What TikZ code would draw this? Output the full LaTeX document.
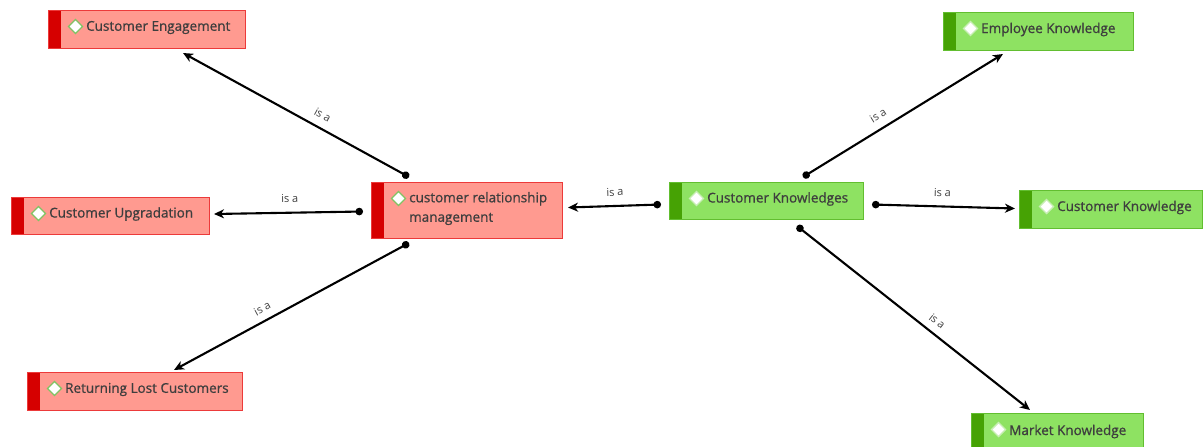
\documentclass[tikz,border=0pt]{standalone}
\usepackage{fontspec}
\setmainfont{Open Sans}
\newfontfamily\boxfont{Open Sans}[FakeBold=0.9]
\usetikzlibrary{arrows.meta}

\definecolor{redfill}{RGB}{255,154,144}
\definecolor{redline}{RGB}{236,58,58}
\definecolor{redbar}{RGB}{214,0,0}
\definecolor{greenfill}{RGB}{142,226,98}
\definecolor{greenline}{RGB}{98,190,48}
\definecolor{greenbar}{RGB}{70,162,4}
\definecolor{dmdred}{RGB}{128,196,100}
\definecolor{dmdgreen}{RGB}{200,238,180}
\definecolor{textgrey}{RGB}{62,62,62}

\tikzset{
  concept/.style n args={4}{rectangle, anchor=north west, inner sep=0pt,
    line width=1pt, fill=#1, draw=#2,
    path picture={
      \fill[#3] (path picture bounding box.north west) rectangle
        ([xshift=12pt]path picture bounding box.south west);
      \draw[line width=1.4pt, draw=#4, fill=white]
        ([shift={(27,-16)}]path picture bounding box.north west)
        +(-7,0) -- +(0,7) -- +(7,0) -- +(0,-7) -- cycle;}},
  redc/.style={concept={redfill}{redline}{redbar}{dmdred}},
  greenc/.style={concept={greenfill}{greenline}{greenbar}{dmdgreen}},
  txt/.style={anchor=west, xshift=38pt, yshift=2pt, inner sep=0pt, align=left,
    font=\boxfont\fontsize{13.5}{19.5}\selectfont, text=textgrey},
  isa/.style={line width=2.1pt,
    {Circle[length=7.5pt]}-{Stealth[length=10pt,width=9pt,inset=3pt]}},
  lbl/.style={sloped, above=#1, inner sep=1pt,
    font=\fontsize{11}{13}\selectfont, text=textgrey},
  lbl/.default=7pt
}

\begin{document}
\begin{tikzpicture}[x=1pt,y=1pt]
  \useasboundingbox (0,0) rectangle (1203,-447);

  % red concepts
  \draw (48,-10) node[redc, minimum width=197, minimum height=38,
    label={[txt]west:Customer Engagement}] (ce) {};
  \draw (11,-197) node[redc, minimum width=198, minimum height=37,
    label={[txt]west:Customer Upgradation}] (cu) {};
  \draw (371,-182) node[redc, minimum width=191, minimum height=56,
    label={[txt]west:customer relationship\\management}] (crm) {};
  \draw (27,-372) node[redc, minimum width=215, minimum height=38,
    label={[txt]west:Returning Lost Customers}] (rlc) {};

  % green concepts
  \draw (669,-182) node[greenc, minimum width=194, minimum height=37,
    label={[txt]west:Customer Knowledges}] (ck) {};
  \draw (943,-12) node[greenc, minimum width=190, minimum height=38,
    label={[txt]west:Employee Knowledge}] (ek) {};
  \draw (1019,-190) node[greenc, minimum width=183, minimum height=38,
    label={[txt]west:Customer Knowledge}] (ckn) {};
  \draw (971,-413) node[greenc, minimum width=172, minimum height=40,
    label={[txt]west:Market Knowledge}] (mk) {};

  % is a links
  \draw[isa] ([shift={(38,5)}]crm.north west) -- ([shift={(135,-4)}]ce.south west)
    node[lbl, pos=.41] {is a};
  \draw[isa] ([shift={(-8,-1)}]crm.west) -- ([shift={(4,2)}]cu.east)
    node[lbl=8pt, pos=.49] {is a};
  \draw[isa] ([shift={(38,-4)}]crm.south west) -- ([shift={(147,2)}]rlc.north west)
    node[lbl=6pt, pos=.6] {is a};
  \draw[isa] ([shift={(-8,-3.5)}]ck.west) -- ([shift={(5,3)}]crm.east)
    node[lbl=8pt, pos=.49] {is a};
  \draw[isa] ([shift={(134,5)}]ck.north west) -- ([shift={(60,-3)}]ek.south west)
    node[lbl, pos=.41] {is a};
  \draw[isa] ([shift={(8,-3.5)}]ck.east) -- ([shift={(-4,1)}]ckn.west)
    node[lbl=8pt, pos=.49] {is a};
  \draw[isa] ([shift={(128,-6)}]ck.south west) -- ([shift={(59,3)}]mk.north west)
    node[lbl=6pt, pos=.57] {is a};
\end{tikzpicture}
\end{document}
